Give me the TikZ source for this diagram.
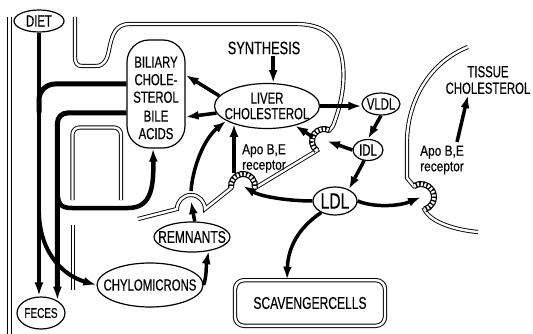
\documentclass[tikz,border=0pt]{standalone}
\usepackage{fontspec}
\setmainfont{Liberation Sans}[FakeStretch=0.71,FakeBold=0.4]
\newfontfamily\recfont{Liberation Sans}[FakeStretch=0.82,FakeBold=0.4]
\usetikzlibrary{arrows.meta,shapes.geometric}
\begin{document}
\begin{tikzpicture}[x=1pt,y=-1pt,
  lbl/.style={font=\fontsize{16}{16.5}\selectfont, inner sep=1pt},
  oval/.style={ellipse, draw, line width=1.2pt, inner sep=0pt},
  memb/.style={double, double distance=2.4pt, line width=0.9pt},
  tline/.style={line width=4.5pt},
  arr/.style={line width=3.5pt, -{Latex[length=13pt,width=9pt]}},
  pitbase/.style={line width=6pt},
  pitbead/.style={white, line width=3.6pt, dash pattern=on 2pt off 1.6pt},
]
\fill[white] (0,0) rectangle (533,334);
\useasboundingbox (0,0) rectangle (533,334);

% membranes
\draw[memb] (9.5,17) -- (9.5,334);
\draw[memb, rounded corners=7pt] (72.5,200) -- (72.5,127.5) -- (121,127.5) -- (121,200);
\draw[memb] (73,225) -- (73,290);
\draw[memb] (138,219) -- (177,209) arc[start angle=180, end angle=0, radius=14pt]
  -- (231.2,188.1) arc[start angle=190, end angle=-10, radius=12pt]
  -- (316.8,150.6) arc[start angle=233, end angle=63, radius=12pt]
  -- (333,126) .. controls (341,105) and (345,85) .. (343,65)
  .. controls (340,35) and (322,24) .. (296,24) -- (130,24)
  .. controls (115,24) and (112,35) .. (109,50)
  .. controls (107,60) and (104,66) .. (96,66) -- (82,66)
  .. controls (77,66) and (75,63) .. (75,57) -- (75,17);
\draw[memb] (468,47) .. controls (430,62) and (408,100) .. (407,140) -- (407,178)
  -- (413.9,186.1) arc[start angle=123, end angle=-74, radius=13pt]
  .. controls (430,222) and (455,230) .. (478,232);

% coated pits
\coordinate (p1) at (324,141);
\coordinate (p2) at (243,186);
\coordinate (p3) at (421,197);
\coordinate (dome) at (191,195);
\foreach \s in {pitbase,pitbead}{
  \draw[\s] (p1) ++(233:12pt) arc[start angle=233, end angle=63, radius=12pt];
  \draw[\s] (p2) ++(190:12pt) arc[start angle=190, end angle=-10, radius=12pt];
  \draw[\s] (p3) ++(123:13pt) arc[start angle=123, end angle=-74, radius=13pt];
}

% nodes
\node[oval, minimum width=50pt, minimum height=22pt] (DIET) at (39,21) {};
\node[lbl] (DIETt) at (DIET) {DIET};
\node[oval, minimum width=48pt, minimum height=32pt] (FECES) at (41,313) {};
\node[lbl, font=\fontsize{14}{14}\selectfont] (FECESt) at (FECES) {FECES};
\node[draw, line width=1.2pt, rounded corners=22pt, minimum width=58pt, minimum height=108pt] (BIL) at (156,94) {};
\node[lbl, align=center, font=\fontsize{16}{17.5}\selectfont] (BILt) at (156,98) {BILIARY\\CHOLE-\\STEROL\\[1.5pt]BILE\\ACIDS};
\node[oval, minimum width=105pt, minimum height=45pt] (LIVER) at (267,106) {};
\node[lbl, align=center, font=\fontsize{16}{15.5}\selectfont] (LIVERt) at (LIVER) {LIVER\\CHOLESTEROL};
\node[lbl, font=\fontsize{18}{18}\selectfont] (SYN) at (264,48) {SYNTHESIS};
\node[oval, minimum width=38pt, minimum height=22pt] (VLDL) at (381,104) {};
\node[lbl] (VLDLt) at (VLDL) {VLDL};
\node[oval, minimum width=30pt, minimum height=21pt] (IDL) at (368,150) {};
\node[lbl] (IDLt) at (IDL) {IDL};
\node[oval, minimum width=44pt, minimum height=28pt] (LDL) at (335,201) {};
\node[lbl, font=\fontsize{22}{22}\selectfont] (LDLt) at (LDL) {LDL};
\node[oval, minimum width=76pt, minimum height=30pt] (REM) at (192,237) {};
\node[lbl, font=\fontsize{17}{17}\selectfont] (REMt) at (REM) {REMNANTS};
\node[oval, minimum width=106pt, minimum height=44pt] (CHY) at (150,285) {};
\node[lbl] (CHYt) at (CHY) {CHYLOMICRONS};
\node[draw, double, double distance=2.4pt, line width=1pt, rounded corners=9pt, minimum width=150pt, minimum height=45.6pt, font=\fontsize{17}{17}\selectfont] (SCAV) at (310,303) {SCAVENGERCELLS};
\node[lbl, align=center] (TIS) at (488,80) {TISSUE\\CHOLESTEROL};
\node[lbl, anchor=west, align=left, font=\recfont\fontsize{14.5}{15.5}\selectfont] (REC1) at (241,158.5) {Apo B,E\\receptor};
\node[lbl, anchor=west, align=left, font=\recfont\fontsize{14.5}{15.5}\selectfont] (REC2) at (419,160) {Apo B,E\\receptor};

% intestine thick lines
\draw[tline, -{Latex[length=14pt,width=9pt]}] (DIET.south) -- (DIET.south |- FECES.north);
\draw[line width=5pt, rounded corners=16pt] ([yshift=10pt]BIL.west) -| ([yshift=-80pt]DIET.south);
\draw[line width=5pt, rounded corners=10pt, -{Latex[length=14pt,width=9pt]}] ([yshift=-19pt]BIL.west) -| (FECES.37);
\path (FECES.37) ++(0,-115) coordinate (b1);
\path (DIET.south) ++(0,180) coordinate (b2);
\draw[tline, -{Latex[length=13pt,width=9pt]}] (b1) .. controls (57,204) and (60,208) .. (72,208) -- (128,208) .. controls (150,208) and (154,190) .. ([xshift=-3pt]BIL.south);
\draw[line width=4pt, -{Latex[length=13pt,width=9pt]}] (b2) .. controls (40,255) and (65,276) .. (CHY.west);

% liver arrows
\coordinate (a9s) at (234,173);
\coordinate (t0) at (457,142);
\draw[arr] (SYN.south -| LIVER.75) -- (LIVER.75);
\draw[arr] (LIVER.168) -- ([yshift=19pt]BIL.east);
\draw[arr] (LIVER.188) -- ([yshift=-23pt]BIL.east);
\draw[arr] (LIVER.east) -- (VLDL.west |- LIVER.east);
\draw[arr] (VLDL.south) -- (IDL.north);
\draw[arr] (IDL.250) -- (LDL.40);
\draw[arr] (IDL.west) -- ([xshift=3pt]p1);
\draw[arr] (p1) ++(160:12pt) -- (LIVER.-35);
\draw[arr] (a9s) -- (a9s |- LIVER.208);
\draw[arr] ([yshift=4pt]dome) .. controls (193,165) and (205,138) .. (LIVER.200);
\draw[arr] (REM.80) -- ([yshift=-6pt]dome);
\draw[arr] (CHY.east) .. controls (207,275) and (206,265) .. (REM.-40);
\draw[arr] (LDL.west) .. controls (290,201) and (262,197) .. (p2);
\draw[arr] (LDL.east) .. controls (375,208) and (400,206) .. (p3);
\draw[arr] (LDL.220) .. controls (298,228) and (288,248) .. ([xshift=-23pt]SCAV.north);
\draw[arr] (t0) -- ([xshift=-20pt]TIS.south);
\end{tikzpicture}
\end{document}
